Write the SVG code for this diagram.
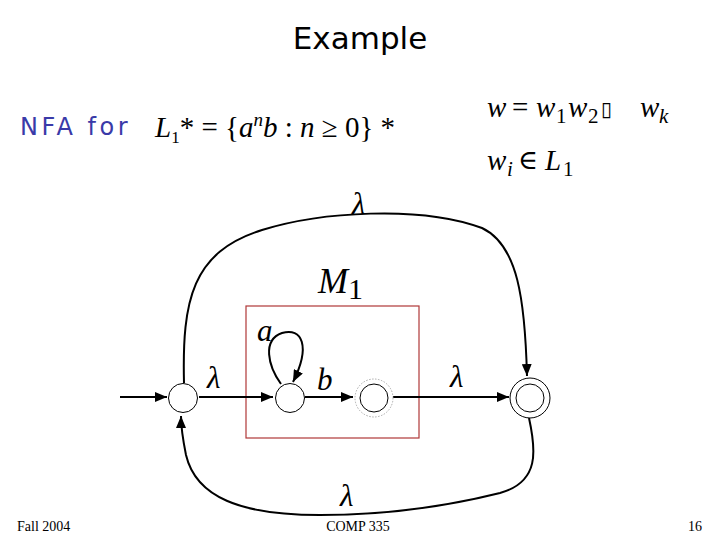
<svg xmlns="http://www.w3.org/2000/svg" width="720" height="540" viewBox="0 0 720 540">
<style>
.m{font-family:"Liberation Serif",serif;fill:#000;font-size:29px}
.s{font-family:"Liberation Serif",serif;fill:#000;font-size:21px}
.i{font-style:italic}
.st{fill:#fff;stroke:#000;stroke-width:1}
.e{fill:none;stroke:#000;stroke-width:2}
.lb{font-family:"Liberation Serif",serif;font-style:italic;font-size:31px;fill:#000}
.ft{font-family:"Liberation Serif",serif;font-size:14px;fill:#000}
</style>
<defs>
<marker id="ah" viewBox="0 0 12 10" refX="12" refY="5" markerWidth="12" markerHeight="10" markerUnits="userSpaceOnUse" orient="auto">
<path d="M0,0 L12,5 L0,10 Z" fill="#000"/>
</marker>
</defs>
<rect width="720" height="540" fill="#fff"/>
<text x="360" y="49" text-anchor="middle" font-family="'DejaVu Sans',sans-serif" font-size="31">Example</text>
<text x="20" y="135" font-family="'DejaVu Sans',sans-serif" font-size="24" letter-spacing="3.5" fill="#3a3aa8">NFA for</text>
<text class="m" x="155" y="137"><tspan class="i">L</tspan><tspan font-size="17" dy="6">1</tspan><tspan dy="-6">* = {</tspan><tspan class="i">a</tspan><tspan class="i" font-size="19" dy="-11">n</tspan><tspan class="i" dy="11">b</tspan><tspan> : </tspan><tspan class="i">n</tspan><tspan> ≥ 0} *</tspan></text>
<text class="m i" x="487" y="117">w</text>
<text class="m" x="512" y="117">=</text>
<text class="m i" x="536" y="117">w</text>
<text class="s" x="556" y="123">1</text>
<text class="m i" x="568" y="117">w</text>
<text class="s" x="588" y="123">2</text>
<text x="601" y="116" font-family="'DejaVu Sans',sans-serif" font-size="20" fill="#000">▯</text>
<text class="m i" x="640" y="117">w</text>
<text class="s i" x="659" y="123">k</text>
<text class="m i" x="487" y="170">w</text>
<text class="s i" x="507" y="176">i</text>
<text x="518" y="169" font-family="'DejaVu Serif',serif" font-size="27" fill="#000">∈</text>
<text class="m i" x="545" y="170">L</text>
<text class="s" x="563" y="176">1</text>
<text class="m" x="318" y="293" font-size="36"><tspan class="i" font-size="36">M</tspan><tspan dy="6" font-size="30">1</tspan></text>
<rect id="M1box" x="246" y="306" width="173" height="132" fill="none" stroke="#b03838" stroke-width="1.2"/>
<g id="connectors">
<line class="e" x1="120" y1="397" x2="167" y2="397" marker-end="url(#ah)"/>
<line class="e" x1="199" y1="397" x2="273" y2="397" marker-end="url(#ah)"/>
<line class="e" x1="305" y1="397" x2="353" y2="397" marker-end="url(#ah)"/>
<line class="e" x1="393" y1="397" x2="509" y2="397" marker-end="url(#ah)"/>
<path class="e" d="M281 384 C268 366 262 340 282 333 C302 327 311 346 293 382" marker-end="url(#ah)"/>
<path class="e" d="M184 383 C182 300 192 252 262 230 C320 212 420 205 482 228 C518 245 525 300 527 376" marker-end="url(#ah)"/>
<path class="e" d="M529 418 C536 450 540 482 500 493 C440 508 380 515 320 515 C240 515 196 497 186 455 C183 440 181 428 181 416" marker-end="url(#ah)"/>
<text class="lb" x="207" y="388">λ</text>
<text class="lb" x="317" y="390">b</text>
<text class="lb" x="450" y="387">λ</text>
<text class="lb" x="257" y="341">a</text>
<text class="lb" x="352" y="214">λ</text>
<text class="lb" x="340" y="506">λ</text>
</g>
<g id="q0"><circle class="st" cx="183" cy="398" r="14.5"/></g>
<g id="q1"><circle class="st" cx="290" cy="398" r="14.5"/></g>
<g id="q2"><circle cx="374" cy="398" r="19" fill="#fff" stroke="#aaa" stroke-width="1" stroke-dasharray="1.5,1.5"/><circle class="st" cx="374" cy="398" r="14"/></g>
<g id="qf"><circle class="st" cx="530" cy="398" r="20"/><circle class="st" cx="530" cy="398" r="14"/></g>
<text class="ft" x="17" y="531">Fall 2004</text>
<text class="ft" x="358" y="531" text-anchor="middle">COMP 335</text>
<text class="ft" x="702" y="531" text-anchor="end">16</text>
</svg>
